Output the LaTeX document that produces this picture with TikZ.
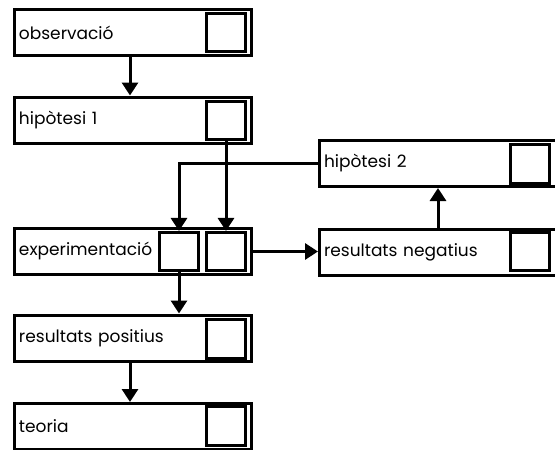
\documentclass[tikz,border=0pt]{standalone}
\usepackage{fontspec}
\setmainfont{Poppins}
\usetikzlibrary{arrows.meta}

\begin{document}
\begin{tikzpicture}[x=1pt,y=-1pt,
  every node/.style={font=\fontsize{17}{20}\selectfont},
  stage/.style={draw,line width=3pt,minimum height=46pt,text width=228pt,
    inner xsep=4.5pt,inner ysep=0pt,align=left},
  tickbox/.style={draw,line width=2.6pt,minimum width=39.5pt,minimum height=38.5pt,
    inner sep=0pt},
  link/.style={line width=3pt,-{Triangle[length=13pt,width=16pt]}}]
  \useasboundingbox (0,0) rectangle (555,450);
  \clip (0,0) rectangle (555,450);
  % left column
  \node[stage] (obs) at (133,32.5) {observació};
  \node[tickbox] (obs-sq) at (226,32.5) {};
  \node[stage] (hyp1) at (133,120) {hipòtesi 1};
  \node[tickbox] (hyp1-sq) at (226,120.5) {};
  \node[stage] (exp) at (133,251.5) {experimentació};
  \node[tickbox] (exp-sq1) at (179,251.5) {};
  \node[tickbox] (exp-sq2) at (226,251.5) {};
  \node[stage] (pos) at (133,338) {resultats positius};
  \node[tickbox] (pos-sq) at (226,339) {};
  \node[stage] (teo) at (133,426.5) {teoria};
  \node[tickbox] (teo-sq) at (226,426) {};
  % right column
  \node[stage] (hyp2) at (438,163.5) {hipòtesi 2};
  \node[tickbox] (hyp2-sq) at (530,164) {};
  \node[stage] (neg) at (438,252) {resultats negatius};
  \node[tickbox] (neg-sq) at (530,251.5) {};
  % arrows
  \draw[link] ([xshift=-3pt]obs.south) -- ([xshift=-3pt]hyp1.north);
  \draw[link] (hyp1-sq.south) -- (exp-sq2.north);
  \draw[link] (hyp2.west) -| (exp-sq1.north);
  \draw[link] (exp.east) -- (exp.east -| neg.west);
  \draw[link] (neg.north) -- (hyp2.south);
  \draw[link] (exp-sq1.south) -- (exp-sq1.south |- pos.north);
  \draw[link] ([xshift=-3pt]pos.south) -- ([xshift=-3pt]teo.north);
\end{tikzpicture}
\end{document}
